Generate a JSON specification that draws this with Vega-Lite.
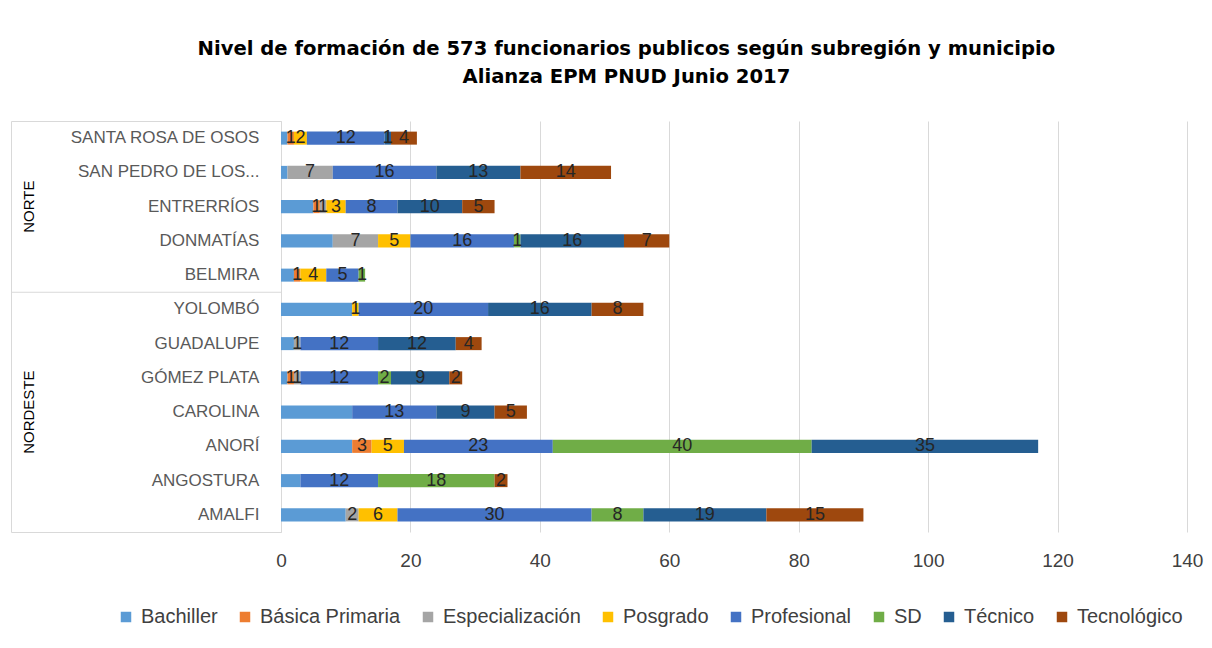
{
  "$schema": "https://vega.github.io/schema/vega-lite/v6.json",
  "padding": {"left": 10, "top": 38, "right": 10, "bottom": 5},
  "background": "white",
  "bounds": "flush",
  "spacing": 0,
  "config": {
    "font": "Liberation Sans",
    "view": {"stroke": "#d9d9d9", "strokeWidth": 1},
    "concat": {"spacing": 0}
  },
  "title": {
    "text": ["Nivel de formación de 573 funcionarios publicos según  subregión y municipio", "Alianza EPM PNUD Junio 2017"],
    "fontSize": 19.6, "fontWeight": "bold", "color": "#000000", "lineHeight": 28, "offset": 33, "anchor": "middle", "dx": 20, "font": "DejaVu Sans"
  },
  "datasets": {
    "levels": [
      {"lvl": "Bachiller", "k": 1},
      {"lvl": "Básica Primaria", "k": 2},
      {"lvl": "Especialización", "k": 3},
      {"lvl": "Posgrado", "k": 4},
      {"lvl": "Profesional", "k": 5},
      {"lvl": "SD", "k": 6},
      {"lvl": "Técnico", "k": 7},
      {"lvl": "Tecnológico", "k": 8}
    ],
    "munis": [
      {"r": "NORTE", "m": "SANTA ROSA DE OSOS"},
      {"r": "NORTE", "m": "SAN PEDRO DE LOS..."},
      {"r": "NORTE", "m": "ENTRERRÍOS"},
      {"r": "NORTE", "m": "DONMATÍAS"},
      {"r": "NORTE", "m": "BELMIRA"},
      {"r": "NORDESTE", "m": "YOLOMBÓ"},
      {"r": "NORDESTE", "m": "GUADALUPE"},
      {"r": "NORDESTE", "m": "GÓMEZ PLATA"},
      {"r": "NORDESTE", "m": "CAROLINA"},
      {"r": "NORDESTE", "m": "ANORÍ"},
      {"r": "NORDESTE", "m": "ANGOSTURA"},
      {"r": "NORDESTE", "m": "AMALFI"}
    ],
    "rows": [
      {"m": "SANTA ROSA DE OSOS", "lvl": "Bachiller", "v": 1},
      {"m": "SANTA ROSA DE OSOS", "lvl": "Básica Primaria", "v": 1},
      {"m": "SANTA ROSA DE OSOS", "lvl": "Posgrado", "v": 2},
      {"m": "SANTA ROSA DE OSOS", "lvl": "Profesional", "v": 12},
      {"m": "SANTA ROSA DE OSOS", "lvl": "Técnico", "v": 1},
      {"m": "SANTA ROSA DE OSOS", "lvl": "Tecnológico", "v": 4},
      {"m": "SAN PEDRO DE LOS...", "lvl": "Bachiller", "v": 1},
      {"m": "SAN PEDRO DE LOS...", "lvl": "Especialización", "v": 7},
      {"m": "SAN PEDRO DE LOS...", "lvl": "Profesional", "v": 16},
      {"m": "SAN PEDRO DE LOS...", "lvl": "Técnico", "v": 13},
      {"m": "SAN PEDRO DE LOS...", "lvl": "Tecnológico", "v": 14},
      {"m": "ENTRERRÍOS", "lvl": "Bachiller", "v": 5},
      {"m": "ENTRERRÍOS", "lvl": "Básica Primaria", "v": 1},
      {"m": "ENTRERRÍOS", "lvl": "Especialización", "v": 1},
      {"m": "ENTRERRÍOS", "lvl": "Posgrado", "v": 3},
      {"m": "ENTRERRÍOS", "lvl": "Profesional", "v": 8},
      {"m": "ENTRERRÍOS", "lvl": "Técnico", "v": 10},
      {"m": "ENTRERRÍOS", "lvl": "Tecnológico", "v": 5},
      {"m": "DONMATÍAS", "lvl": "Bachiller", "v": 8},
      {"m": "DONMATÍAS", "lvl": "Especialización", "v": 7},
      {"m": "DONMATÍAS", "lvl": "Posgrado", "v": 5},
      {"m": "DONMATÍAS", "lvl": "Profesional", "v": 16},
      {"m": "DONMATÍAS", "lvl": "SD", "v": 1},
      {"m": "DONMATÍAS", "lvl": "Técnico", "v": 16},
      {"m": "DONMATÍAS", "lvl": "Tecnológico", "v": 7},
      {"m": "BELMIRA", "lvl": "Bachiller", "v": 2},
      {"m": "BELMIRA", "lvl": "Básica Primaria", "v": 1},
      {"m": "BELMIRA", "lvl": "Posgrado", "v": 4},
      {"m": "BELMIRA", "lvl": "Profesional", "v": 5},
      {"m": "BELMIRA", "lvl": "SD", "v": 1},
      {"m": "YOLOMBÓ", "lvl": "Bachiller", "v": 11},
      {"m": "YOLOMBÓ", "lvl": "Posgrado", "v": 1},
      {"m": "YOLOMBÓ", "lvl": "Profesional", "v": 20},
      {"m": "YOLOMBÓ", "lvl": "Técnico", "v": 16},
      {"m": "YOLOMBÓ", "lvl": "Tecnológico", "v": 8},
      {"m": "GUADALUPE", "lvl": "Bachiller", "v": 2},
      {"m": "GUADALUPE", "lvl": "Especialización", "v": 1},
      {"m": "GUADALUPE", "lvl": "Profesional", "v": 12},
      {"m": "GUADALUPE", "lvl": "Técnico", "v": 12},
      {"m": "GUADALUPE", "lvl": "Tecnológico", "v": 4},
      {"m": "GÓMEZ PLATA", "lvl": "Bachiller", "v": 1},
      {"m": "GÓMEZ PLATA", "lvl": "Básica Primaria", "v": 1},
      {"m": "GÓMEZ PLATA", "lvl": "Especialización", "v": 1},
      {"m": "GÓMEZ PLATA", "lvl": "Profesional", "v": 12},
      {"m": "GÓMEZ PLATA", "lvl": "SD", "v": 2},
      {"m": "GÓMEZ PLATA", "lvl": "Técnico", "v": 9},
      {"m": "GÓMEZ PLATA", "lvl": "Tecnológico", "v": 2},
      {"m": "CAROLINA", "lvl": "Bachiller", "v": 11},
      {"m": "CAROLINA", "lvl": "Profesional", "v": 13},
      {"m": "CAROLINA", "lvl": "Técnico", "v": 9},
      {"m": "CAROLINA", "lvl": "Tecnológico", "v": 5},
      {"m": "ANORÍ", "lvl": "Bachiller", "v": 11},
      {"m": "ANORÍ", "lvl": "Básica Primaria", "v": 3},
      {"m": "ANORÍ", "lvl": "Posgrado", "v": 5},
      {"m": "ANORÍ", "lvl": "Profesional", "v": 23},
      {"m": "ANORÍ", "lvl": "SD", "v": 40},
      {"m": "ANORÍ", "lvl": "Técnico", "v": 35},
      {"m": "ANGOSTURA", "lvl": "Bachiller", "v": 3},
      {"m": "ANGOSTURA", "lvl": "Profesional", "v": 12},
      {"m": "ANGOSTURA", "lvl": "SD", "v": 18},
      {"m": "ANGOSTURA", "lvl": "Tecnológico", "v": 2},
      {"m": "AMALFI", "lvl": "Bachiller", "v": 10},
      {"m": "AMALFI", "lvl": "Especialización", "v": 2},
      {"m": "AMALFI", "lvl": "Posgrado", "v": 6},
      {"m": "AMALFI", "lvl": "Profesional", "v": 30},
      {"m": "AMALFI", "lvl": "SD", "v": 8},
      {"m": "AMALFI", "lvl": "Técnico", "v": 19},
      {"m": "AMALFI", "lvl": "Tecnológico", "v": 15}
    ]
  },
  "hconcat": [
    {
      "width": 270,
      "height": 411,
      "data": {"name": "munis"},
      "layer": [
        {
          "mark": {"type": "text", "align": "right", "baseline": "middle", "fontSize": 17, "color": "#595959"},
          "encoding": {
            "y": {"field": "m", "type": "nominal", "axis": null, "scale": {"domain": ["SANTA ROSA DE OSOS", "SAN PEDRO DE LOS...", "ENTRERRÍOS", "DONMATÍAS", "BELMIRA", "YOLOMBÓ", "GUADALUPE", "GÓMEZ PLATA", "CAROLINA", "ANORÍ", "ANGOSTURA", "AMALFI"], "paddingInner": 0, "paddingOuter": 0}},
            "x": {"datum": 9.2, "type": "quantitative", "scale": {"domain": [0, 10]}, "axis": null},
            "text": {"field": "m"}
          }
        },
        {
          "transform": [{"filter": {"field": "m", "oneOf": ["ENTRERRÍOS", "CAROLINA"]}}],
          "mark": {"type": "text", "angle": 270, "align": "center", "baseline": "middle", "fontSize": 15, "color": "#000000"},
          "encoding": {
            "y": {"field": "m", "type": "nominal"},
            "x": {"datum": 0.68, "type": "quantitative"},
            "text": {"field": "r"}
          }
        },
        {
          "transform": [{"filter": {"field": "m", "equal": "YOLOMBÓ"}}],
          "mark": {"type": "rule", "color": "#d9d9d9", "strokeWidth": 1},
          "encoding": {
            "y": {"field": "m", "type": "nominal", "bandPosition": 0}
          }
        }
      ]
    },
    {
      "width": 906,
      "height": 411,
      "view": {"stroke": null},
      "data": {"name": "rows"},
      "transform": [{"lookup": "lvl", "from": {"data": {"name": "levels"}, "key": "lvl", "fields": ["k"]}}],
      "encoding": {
        "y": {"field": "m", "type": "nominal", "axis": null, "scale": {"domain": ["SANTA ROSA DE OSOS", "SAN PEDRO DE LOS...", "ENTRERRÍOS", "DONMATÍAS", "BELMIRA", "YOLOMBÓ", "GUADALUPE", "GÓMEZ PLATA", "CAROLINA", "ANORÍ", "ANGOSTURA", "AMALFI"], "paddingInner": 0.62, "paddingOuter": 0.31}},
        "x": {
          "field": "v", "type": "quantitative", "stack": "zero",
          "scale": {"domain": [0, 140], "nice": false},
          "axis": {"values": [0, 20, 40, 60, 80, 100, 120, 140], "grid": true, "gridColor": "#d9d9d9", "domain": false, "ticks": false, "labelFlush": false, "labelFontSize": 19, "labelColor": "#404040", "labelPadding": 19, "title": null}
        },
        "order": {"field": "k", "type": "quantitative"}
      },
      "layer": [
        {
          "mark": {"type": "bar"},
          "encoding": {
            "color": {
              "field": "lvl", "type": "nominal",
              "scale": {"domain": ["Bachiller", "Básica Primaria", "Especialización", "Posgrado", "Profesional", "SD", "Técnico", "Tecnológico"], "range": ["#5B9BD5", "#ED7D31", "#A5A5A5", "#FFC000", "#4472C4", "#70AD47", "#255E91", "#9E480E"]},
              "legend": {"orient": "none", "legendX": 105, "legendY": 486, "direction": "horizontal", "title": null, "symbolType": "square", "symbolSize": 110, "symbolStrokeWidth": 0, "labelFontSize": 20, "labelColor": "#404040", "columnPadding": 17, "labelOffset": 5}
            }
          }
        },
        {
          "mark": {"type": "text", "fontSize": 18, "color": "#262626", "baseline": "middle", "align": "center"},
          "encoding": {
            "x": {"field": "v", "type": "quantitative", "stack": "zero", "bandPosition": 0.5},
            "detail": {"field": "lvl"},
            "text": {"condition": {"test": "datum.lvl === 'Bachiller'", "value": ""}, "field": "v", "type": "quantitative"}
          }
        }
      ]
    }
  ],
  "resolve": {"scale": {"y": "independent", "x": "independent"}}
}
